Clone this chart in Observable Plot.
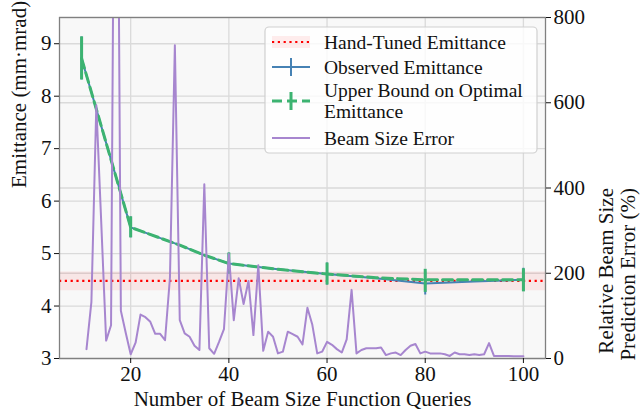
<!DOCTYPE html>
<html><head><meta charset="utf-8">
<script src="https://cdn.jsdelivr.net/npm/d3@7"></script>
<script src="https://cdn.jsdelivr.net/npm/@observablehq/plot@0.6"></script>
<style>
body{margin:0;background:#fff}
svg{display:block}
svg, svg text, svg tspan { font-family: "Liberation Serif", "Times New Roman", Times, "DejaVu Serif", "Noto Serif", serif !important; }
</style>
</head><body><div id="chart"></div>
<script>
// ---- data ----
const emitX = [10, 20, 30, 35, 40, 50, 60, 70, 80, 90, 100];
const observedEmit = [8.72, 5.50, 5.16, 4.97, 4.81, 4.70, 4.61, 4.53, 4.43, 4.47, 4.50];
const upperBoundEmit = [8.72, 5.50, 5.16, 4.97, 4.81, 4.70, 4.61, 4.54, 4.50, 4.50, 4.50];
const errX = [10, 20, 40, 60, 80, 100];
const observedAtErr = [8.72, 5.50, 4.81, 4.61, 4.43, 4.50];
const upperAtErr = [8.72, 5.50, 4.81, 4.61, 4.48, 4.49];
const emitErr = [0.41, 0.20, 0.20, 0.21, 0.22, 0.22];
const handTuned = 4.48;
const handTunedBand = [4.29, 4.65];
const beamX = d3.range(11, 101);
const beamErr = [
  22, 133, 594, 320, 42, 78, 1900, 112, 60, 10,
  37, 103, 97, 86, 58, 58, 43, 190, 735, 90,
  59, 51, 30, 20, 409, 24, 11, 39, 69, 245,
  90, 188, 128, 182, 55, 219, 18, 63, 51, 12,
  16, 63, 57, 51, 33, 119, 79, 12, 16, 39,
  32, 22, 14, 45, 161, 12, 20, 24, 24, 24,
  26, 8, 12, 14, 8, 20, 30, 34, 12, 16,
  12, 12, 12, 10, 6, 14, 10, 10, 8, 10,
  8, 10, 36, 6, 6, 6, 6, 5, 5, 5
];
const xDomain = [5.5, 104.5];
const leftDomain = [3, 9.5];
const rightDomain = [0, 800];
const xTicks = [20, 40, 60, 80, 100];
const leftTicks = [3, 4, 5, 6, 7, 8, 9];
const rightTicks = [0, 200, 400, 600, 800];
const xLabel = "Number of Beam Size Function Queries";
const yLabel = "Emittance (mm·mrad)";
const y2Label = "Relative Beam Size\nPrediction Error (%)";
const legendLabels = ["Hand-Tuned Emittance", "Observed Emittance", "Upper Bound on Optimal\nEmittance", "Beam Size Error"];

// ---- helpers ----
const k = (leftDomain[1] - leftDomain[0]) / (rightDomain[1] - rightDomain[0]);
const toLeft = v => leftDomain[0] + (v - rightDomain[0]) * k;
const fromLeft = y => String(Math.round(rightDomain[0] + (y - leftDomain[0]) / k));

const obs = emitX.map((x, i) => ({x, y: observedEmit[i]}));
const ub = emitX.map((x, i) => ({x, y: upperBoundEmit[i]}));
const errObs = errX.map((x, i) => ({x, lo: observedAtErr[i] - emitErr[i], hi: observedAtErr[i] + emitErr[i]}));
const errUb = errX.map((x, i) => ({x, lo: upperAtErr[i] - emitErr[i], hi: upperAtErr[i] + emitErr[i]}));
const beam = beamX.map((x, i) => ({x, y: toLeft(beamErr[i])}));

const BLUE = "#4682b4", GREEN = "#3cb371", PURPLE = "#a786cf", GRID = "#dadada";

const plot = Plot.plot({
  width: 640, height: 416,
  marginLeft: 59, marginRight: 95, marginTop: 17, marginBottom: 58,
  style: {fontSize: "21px", color: "#111", background: "#fff"},
  x: {domain: xDomain},
  y: {domain: leftDomain},
  marks: [
    Plot.frame({fill: "#f8f8f8", stroke: null}),
    Plot.gridX(xTicks, {stroke: GRID, strokeOpacity: 1, strokeWidth: 1.3}),
    Plot.gridY(leftTicks, {stroke: GRID, strokeOpacity: 1, strokeWidth: 1.3}),
    Plot.gridY(rightTicks.map(toLeft), {stroke: GRID, strokeOpacity: 1, strokeWidth: 1.3}),
    Plot.rect([handTunedBand], {y1: d => d[0], y2: d => d[1], fill: "red", fillOpacity: 0.07}),
    Plot.ruleY([handTuned], {stroke: "red", strokeWidth: 2.2, strokeDasharray: "2.2,3.6"}),
    Plot.line(obs, {x: "x", y: "y", stroke: BLUE, strokeWidth: 2}),
    Plot.ruleX(errObs, {x: "x", y1: "lo", y2: "hi", stroke: BLUE, strokeWidth: 2}),
    Plot.line(ub, {x: "x", y: "y", stroke: GREEN, strokeWidth: 3, strokeDasharray: "10,5"}),
    Plot.ruleX(errUb, {x: "x", y1: "lo", y2: "hi", stroke: GREEN, strokeWidth: 3}),
    Plot.line(beam, {x: "x", y: "y", stroke: PURPLE, strokeWidth: 2, clip: true}),
    Plot.frame({stroke: "#808080", strokeWidth: 1.3}),
    Plot.axisX({ticks: xTicks, tickSize: 5, tickPadding: 3, label: null, tickFormat: d => String(d)}),
    Plot.axisY({ticks: leftTicks, anchor: "left", tickSize: 5, tickPadding: 3, label: null, tickFormat: d => String(d)}),
    Plot.axisY({ticks: rightTicks.map(toLeft), anchor: "right", tickSize: 5, tickPadding: 3, label: null, tickFormat: fromLeft}),
    Plot.text([xLabel], {text: d => d, frameAnchor: "bottom", dy: 47, fontSize: 21, fill: "#111"}),
    Plot.text([yLabel], {text: d => d, frameAnchor: "left", dx: -40, rotate: -90, fontSize: 21, fill: "#111"}),
    Plot.text([y2Label], {text: d => d, frameAnchor: "right", dx: 71, rotate: -90, fontSize: 21, lineHeight: 1.05, fill: "#111"})
  ]
});
document.getElementById("chart").appendChild(plot);

// ---- legend ----
const svg = d3.select(plot);
const lg = svg.append("g").attr("font-size", 19.5).attr("fill", "#111").attr("text-anchor", "start");
lg.append("rect").attr("x", 265).attr("y", 27).attr("width", 272).attr("height", 126)
  .attr("rx", 4).attr("fill", "#fff").attr("fill-opacity", 0.8).attr("stroke", "#d0d0d0").attr("stroke-width", 1.2);
const hx0 = 272, hx1 = 310, hxm = 291, tx = 324;
const rowY = [42, 67, 101, 138];
lg.append("rect").attr("x", hx0).attr("y", rowY[0] - 6).attr("width", hx1 - hx0).attr("height", 12).attr("fill", "red").attr("fill-opacity", 0.07);
lg.append("line").attr("x1", hx0).attr("x2", hx1).attr("y1", rowY[0]).attr("y2", rowY[0]).attr("stroke", "red").attr("stroke-width", 2.2).attr("stroke-dasharray", "2.2,3.6");
lg.append("line").attr("x1", hx0).attr("x2", hx1).attr("y1", rowY[1]).attr("y2", rowY[1]).attr("stroke", BLUE).attr("stroke-width", 2);
lg.append("line").attr("x1", hxm).attr("x2", hxm).attr("y1", rowY[1] - 9).attr("y2", rowY[1] + 9).attr("stroke", BLUE).attr("stroke-width", 2);
lg.append("line").attr("x1", hx0).attr("x2", hx1).attr("y1", rowY[2]).attr("y2", rowY[2]).attr("stroke", GREEN).attr("stroke-width", 3).attr("stroke-dasharray", "10,5");
lg.append("line").attr("x1", hxm).attr("x2", hxm).attr("y1", rowY[2] - 9).attr("y2", rowY[2] + 9).attr("stroke", GREEN).attr("stroke-width", 3);
lg.append("line").attr("x1", hx0).attr("x2", hx1).attr("y1", rowY[3]).attr("y2", rowY[3]).attr("stroke", PURPLE).attr("stroke-width", 2);
lg.append("text").attr("x", tx).attr("y", rowY[0]).attr("dy", "0.35em").text(legendLabels[0]);
lg.append("text").attr("x", tx).attr("y", rowY[1]).attr("dy", "0.35em").text(legendLabels[1]);
const parts = legendLabels[2].split("\n");
lg.append("text").attr("x", tx).attr("y", rowY[2] - 10.5).attr("dy", "0.35em").text(parts[0]);
lg.append("text").attr("x", tx).attr("y", rowY[2] + 10.5).attr("dy", "0.35em").text(parts[1]);
lg.append("text").attr("x", tx).attr("y", rowY[3]).attr("dy", "0.35em").text(legendLabels[3]);
</script>
</body></html>
